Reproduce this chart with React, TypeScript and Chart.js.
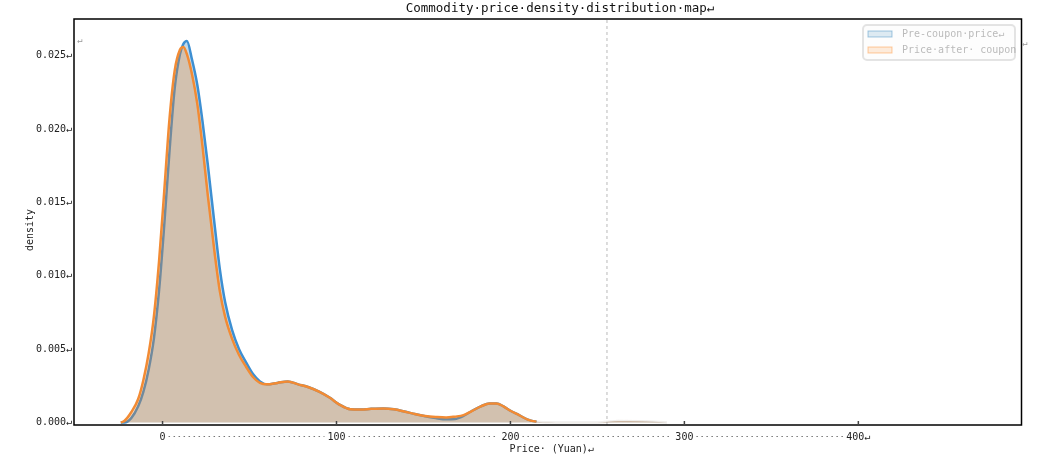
import React, { useEffect, useRef } from 'react';
import { Chart, registerables } from 'chart.js';

Chart.register(...registerables);

const FONT = '"DejaVu Sans Mono", "Liberation Mono", monospace';

const titleText = 'Commodity·price·density·distribution·map↵';
const xTitleText = 'Price· (Yuan)↵';
const yTitleText = 'density';
const legendLabels = ['Pre-coupon·price↵', 'Price·after· coupon'];

const xTickValues = [0, 100, 200, 300, 400];
const yTickValues = [0, 0.005, 0.01, 0.015, 0.02, 0.025];
const markerX = 255.5;

const priceGrid = [
  -24, -22, -18, -14, -11, -8, -5, -2, 1, 4, 7, 10, 12, 14, 17, 20, 23, 26, 30, 33, 36, 40, 44, 48, 52,
  56, 60, 66, 72, 78, 84, 90, 96, 102, 108, 114, 120, 127, 133, 139, 145, 151, 157, 163, 168, 173, 178,
  183, 188, 192, 196, 200, 205, 210, 215, 222, 230, 250, 262, 275, 290,
];

const preCouponDensity = [
  0, 0, 0.0003, 0.0011, 0.0021, 0.0036, 0.0057, 0.009, 0.0135, 0.0185, 0.0228, 0.0251, 0.0258, 0.026,
  0.0247, 0.023, 0.0205, 0.0176, 0.0134, 0.0104, 0.0082, 0.0063, 0.005, 0.0041, 0.0033,
  0.0028, 0.0026, 0.0027, 0.0028, 0.0026, 0.0024, 0.0021, 0.0017, 0.0012, 0.0009, 0.00088, 0.00093, 0.00096,
  0.0009, 0.00075, 0.00058, 0.00042, 0.0003, 0.00022, 0.00024, 0.00045, 0.0008,
  0.0011, 0.0013, 0.0013, 0.0011, 0.0008, 0.0005, 0.0002, 0.00006, 0.00002, 0, 0, 0.0001, 0.00008, 0,
];

const afterCouponDensity = [
  0, 0.0001, 0.0007, 0.0016, 0.0029, 0.0047, 0.0072, 0.011, 0.0158, 0.0207, 0.024, 0.0254, 0.0256, 0.0251,
  0.0237, 0.0217, 0.0188, 0.0155, 0.0115, 0.0089, 0.0072, 0.0057, 0.0046, 0.0038, 0.0031,
  0.0027, 0.0026, 0.0027, 0.0028, 0.0026, 0.0024, 0.0021, 0.0017, 0.0012, 0.0009, 0.00088, 0.00093, 0.00096,
  0.0009, 0.00075, 0.00058, 0.00045, 0.00038, 0.00034, 0.0004, 0.0005, 0.0008,
  0.0011, 0.0013, 0.0013, 0.0011, 0.0008, 0.0005, 0.0002, 0.00006, 0.00002, 0, 0, 0.0001, 0.00008, 0,
];

const X_MIN = -50.9;
const X_MAX = 493.8;
const Y_MIN = -0.00017;
const Y_MAX = 0.0275;

const fadeFrom = 212;

const overlay = {
  id: 'overlay',
  afterDraw(chart: any) {
    const { ctx, chartArea: a, scales } = chart;
    const xs = scales.x;
    ctx.save();
    // frame
    ctx.strokeStyle = '#000';
    ctx.lineWidth = 1.5;
    ctx.strokeRect(a.left, a.top, a.right - a.left, a.bottom - a.top);
    // inward ticks
    ctx.strokeStyle = '#444';
    ctx.lineWidth = 1.5;
    xTickValues.forEach((v) => {
      const px = xs.getPixelForValue(v);
      ctx.beginPath();
      ctx.moveTo(px, a.bottom);
      ctx.lineTo(px, a.bottom - 4);
      ctx.stroke();
    });
    // dotted leaders between x labels
    ctx.font = '10px ' + FONT;
    ctx.setLineDash([1.5, 3.5]);
    ctx.strokeStyle = '#777';
    ctx.lineWidth = 1;
    const labelY = 436.5;
    for (let i = 0; i < xTickValues.length - 1; i++) {
      const p0 = xs.getPixelForValue(xTickValues[i]);
      const p1 = xs.getPixelForValue(xTickValues[i + 1]);
      const w0 = ctx.measureText(String(xTickValues[i])).width;
      const w1 = ctx.measureText(String(xTickValues[i + 1])).width;
      ctx.beginPath();
      ctx.moveTo(p0 + w0 / 2 + 3, labelY);
      ctx.lineTo(p1 - w1 / 2 - 3, labelY);
      ctx.stroke();
    }
    ctx.setLineDash([]);
    // title
    ctx.fillStyle = '#111';
    ctx.textAlign = 'center';
    ctx.textBaseline = 'middle';
    ctx.font = '12.5px ' + FONT;
    ctx.fillText(titleText, 560, 9);
    // x title
    ctx.font = '10px ' + FONT;
    ctx.fillStyle = '#222';
    ctx.fillText(xTitleText, (a.left + a.right) / 2 + 4, 449);
    // y title
    ctx.save();
    ctx.translate(30, 230);
    ctx.rotate(-Math.PI / 2);
    ctx.fillText(yTitleText, 0, 0);
    ctx.restore();
    // stray marks
    ctx.fillStyle = '#999';
    ctx.font = '9px ' + FONT;
    ctx.fillText('↵', 80, 41);
    ctx.fillText('↵', 1025, 44);
    // legend (faded)
    ctx.globalAlpha = 0.4;
    const lx = 863, ly = 25, lw = 152, lh = 35;
    ctx.beginPath();
    ctx.roundRect(lx, ly, lw, lh, 4);
    ctx.fillStyle = '#fafafa';
    ctx.fill();
    ctx.strokeStyle = '#bbb';
    ctx.lineWidth = 2;
    ctx.stroke();
    const patches = [
      { fill: 'rgba(31,119,180,0.35)', stroke: '#1f77b4', y: 31 },
      { fill: 'rgba(255,127,14,0.35)', stroke: '#ff7f0e', y: 47 },
    ];
    ctx.lineWidth = 1;
    patches.forEach((p, i) => {
      ctx.fillStyle = p.fill;
      ctx.fillRect(868, p.y, 24, 6);
      ctx.strokeStyle = p.stroke;
      ctx.strokeRect(868, p.y, 24, 6);
      ctx.fillStyle = '#555';
      ctx.textAlign = 'left';
      ctx.font = '10px ' + FONT;
      ctx.fillText(legendLabels[i], 902, p.y + 3.5);
    });
    ctx.restore();
  },
};

export default function App() {
  const ref = useRef<HTMLCanvasElement | null>(null);
  useEffect(() => {
    if (!ref.current) return;
    const fade = (alphaColor: string) => (ctx: any) =>
      ctx.p0.parsed.x >= fadeFrom ? alphaColor : undefined;
    const chart = new Chart(ref.current, {
      type: 'line',
      data: {
        datasets: [
          {
            label: legendLabels[0],
            data: priceGrid.map((x, i) => ({ x, y: preCouponDensity[i] })),
            borderColor: '#3d8fd2',
            backgroundColor: 'rgba(31,119,180,0.28)',
            fill: 'origin',
            borderWidth: 2.5,
            pointRadius: 0,
            cubicInterpolationMode: 'monotone',
            order: 2,
            segment: { borderColor: fade('rgba(61,143,210,0.08)') },
          },
          {
            label: legendLabels[1],
            data: priceGrid.map((x, i) => ({ x, y: afterCouponDensity[i] })),
            borderColor: '#f28b34',
            backgroundColor: 'rgba(255,127,14,0.27)',
            fill: 'origin',
            borderWidth: 2.5,
            pointRadius: 0,
            cubicInterpolationMode: 'monotone',
            order: 1,
            segment: { borderColor: fade('rgba(242,139,52,0.08)') },
          },
          {
            label: 'marker',
            data: [
              { x: markerX, y: Y_MIN },
              { x: markerX, y: Y_MAX },
            ],
            borderColor: 'rgba(140,140,140,0.6)',
            borderWidth: 1,
            borderDash: [3, 3],
            pointRadius: 0,
            fill: false,
            order: 0,
          },
        ],
      },
      options: {
        animation: false,
        responsive: false,
        layout: { padding: { left: 0, right: 28.5, top: 19, bottom: 0 } },
        plugins: { legend: { display: false }, tooltip: { enabled: false }, title: { display: false } },
        scales: {
          x: {
            type: 'linear',
            min: X_MIN,
            max: X_MAX,
            grid: { display: false, drawTicks: false },
            border: { display: false },
            afterBuildTicks: (s: any) => {
              s.ticks = xTickValues.map((value) => ({ value }));
            },
            afterFit: (s: any) => {
              s.height = 30;
            },
            ticks: {
              padding: 6,
              maxRotation: 0,
              autoSkip: false,
              color: '#222',
              font: { family: FONT, size: 10 },
              callback: (v: any) => (v === 400 ? '400↵' : String(v)),
            },
          },
          y: {
            type: 'linear',
            min: Y_MIN,
            max: Y_MAX,
            grid: { display: false, drawTicks: false },
            border: { display: false },
            afterBuildTicks: (s: any) => {
              s.ticks = yTickValues.map((value) => ({ value }));
            },
            afterFit: (s: any) => {
              s.width = 74;
            },
            ticks: {
              padding: 2,
              autoSkip: false,
              color: '#222',
              font: { family: FONT, size: 10 },
              callback: (v: any) => Number(v).toFixed(3) + '↵',
            },
          },
        },
      },
      plugins: [overlay],
    } as any);
    return () => chart.destroy();
  }, []);
  return (
    <div style={{ position: 'absolute', left: 0, top: 0, width: 1050, height: 455, background: '#fff' }}>
      <canvas ref={ref} width={1050} height={455} style={{ width: 1050, height: 455 }} />
    </div>
  );
}
